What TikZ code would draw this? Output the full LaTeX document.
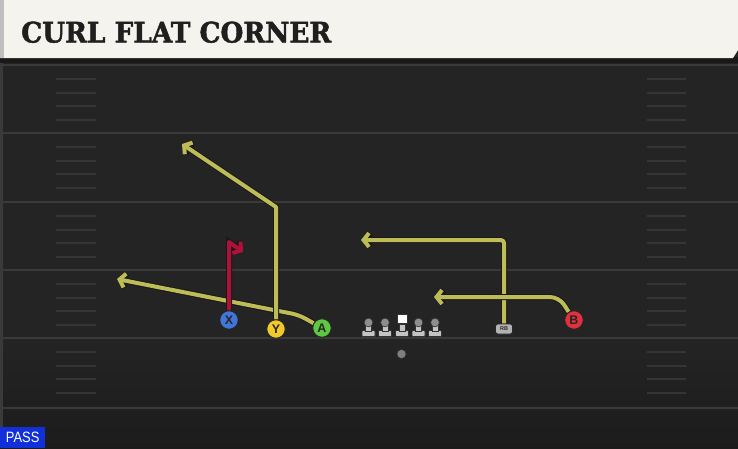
\documentclass[tikz,border=0pt]{standalone}
\usepackage{fontspec}
\setmainfont{Liberation Sans}
\newfontfamily\titlefont{DejaVu Serif}[FakeStretch=0.93,FakeBold=1.6]
\newfontfamily\passfont{Liberation Sans}[FakeStretch=0.86]
\usetikzlibrary{arrows.meta}

\definecolor{field}{HTML}{242424}
\definecolor{fieldlow}{HTML}{1C1C1C}
\definecolor{yardline}{HTML}{3A3A3A}
\definecolor{hashmark}{HTML}{353535}
\definecolor{titlebar}{HTML}{F5F3ED}
\definecolor{routeyellow}{HTML}{BDBC56}
\definecolor{routered}{HTML}{AE1238}
\definecolor{playerblue}{HTML}{3F76D8}
\definecolor{playeryellow}{HTML}{F2C92A}
\definecolor{playergreen}{HTML}{5FC843}
\definecolor{playerred}{HTML}{E2303E}
\definecolor{linegrey}{HTML}{C4C4C4}
\definecolor{headgrey}{HTML}{8E8E8E}
\definecolor{passblue}{HTML}{1230DA}

\pgfdeclarelayer{fieldlayer}
\pgfdeclarelayer{routelayer}
\pgfsetlayers{fieldlayer,routelayer,main}

\begin{document}
\begin{tikzpicture}[x=1pt,y=-1pt,
  route/.style={line width=4pt,line join=round,
    preaction={draw=black!90,line width=6pt},
    -{Straight Barb[length=5.5pt,width=14pt]}},
  yellowroute/.style={route,draw=routeyellow},
  redroute/.style={route,draw=routered},
  player/.style={shape=circle,minimum size=18.5pt,inner sep=0pt,draw=black!85,line width=0.9pt,
    font=\bfseries\fontsize{12.5}{12.5}\selectfont,text=black!85},
  lineman/.style={fill=linegrey,draw=black!80,line width=0.6pt}]
\useasboundingbox (0,0) rectangle (738,448);
% field
\begin{pgfonlayer}{fieldlayer}
\fill[field] (0,0) rectangle (738,448);
\shade[top color=field,bottom color=fieldlow] (0,338) rectangle (738,448);
\fill[yardline] (0,58) rectangle (3,448);
\foreach \yl in {65,133,202,270,338,408}
  \draw[yardline,line width=2pt] (0,\yl) -- (738,\yl);
\foreach \s in {65,133,202,270,338}
  \foreach \d in {14,27.5,41,55} {
    \draw[hashmark,line width=2pt] (56,\s+\d) -- (96,\s+\d);
    \draw[hashmark,line width=2pt] (647,\s+\d) -- (686,\s+\d);
  }
\end{pgfonlayer}
% title bar
\fill[black!90] (0,57) rectangle (738,63);
\fill[titlebar] (0,0) -- (738,0) -- (738,50) -- (733,58) -- (0,58) -- cycle;
\fill[black!25] (0,0) rectangle (4,58);
\path (21,42.5) node (title) [anchor=base west,inner sep=0pt,text=black!88]
  {\titlefont\bfseries\fontsize{28.3}{30}\selectfont CURL FLAT CORNER};

% players
\path (229,320) node (X) [player,fill=playerblue] {X};
\path (276,329) node (Y) [player,fill=playeryellow] {Y};
\path (322,328) node (A) [player,fill=playergreen] {A};
\path (574,320) node (B) [player,fill=playerred] {B};
\path (504,329) node (RB) [shape=rectangle,rounded corners=2.5pt,minimum width=17pt,minimum height=10pt,
  inner sep=0pt,fill=black!30,draw=black!85,line width=0.7pt,
  font=\bfseries\fontsize{5.5}{5.5}\selectfont,text=black!85] {RB};
\path (401.5,354) node (QB) [shape=circle,minimum size=9pt,inner sep=0pt,fill=black!50,draw=black!80,line width=0.5pt] {};

% route corners and ends
\coordinate (Xcorner) at (229,242);
\coordinate (Xend) at (243,252);
\coordinate (Ycorner) at (276,207);
\coordinate (Yend) at (182,144);
\coordinate (Abend) at (299,315);
\coordinate (Aend) at (117,279);
\coordinate (RBcorner) at (504,240);
\coordinate (RBend) at (361,240);
\coordinate (Bcorner) at (559,297);
\coordinate (Bend) at (434,297);

\begin{pgfonlayer}{routelayer}
\draw [yellowroute,rounded corners=7pt] (A) -- (Abend) -- (Aend);
\draw [yellowroute] (Y) -- (Ycorner) -- (Yend);
\draw [yellowroute,rounded corners=3pt] (RB) -- (RBcorner) -- (RBend);
\draw [yellowroute,rounded corners=9pt] (B) -- (Bcorner) -- (Bend);
\draw [redroute] (X) -- (Xcorner) -- (Xend);
\end{pgfonlayer}

% offensive line
\foreach \lx in {368.5,385,402,418.5,435} {
  \draw[lineman,rounded corners=1pt] (\lx-6.5,330.5) rectangle (\lx+6.5,336.5);
  \draw[lineman] (\lx-3,324) rectangle (\lx+3,331);
}
\foreach \lx in {368.5,385,418.5,435}
  \draw[fill=headgrey,draw=black!80,line width=0.6pt] (\lx,322.5) circle (4.4);
\draw[fill=white,draw=black!80,line width=0.6pt] (397,314) rectangle (407,323);

% play type
\path (0,448) node (pass) [anchor=south west,minimum width=45pt,minimum height=21pt,inner sep=0pt,
  fill=passblue,text=white,font=\passfont\fontsize{15}{15}\selectfont] {PASS};
\end{tikzpicture}
\end{document}
